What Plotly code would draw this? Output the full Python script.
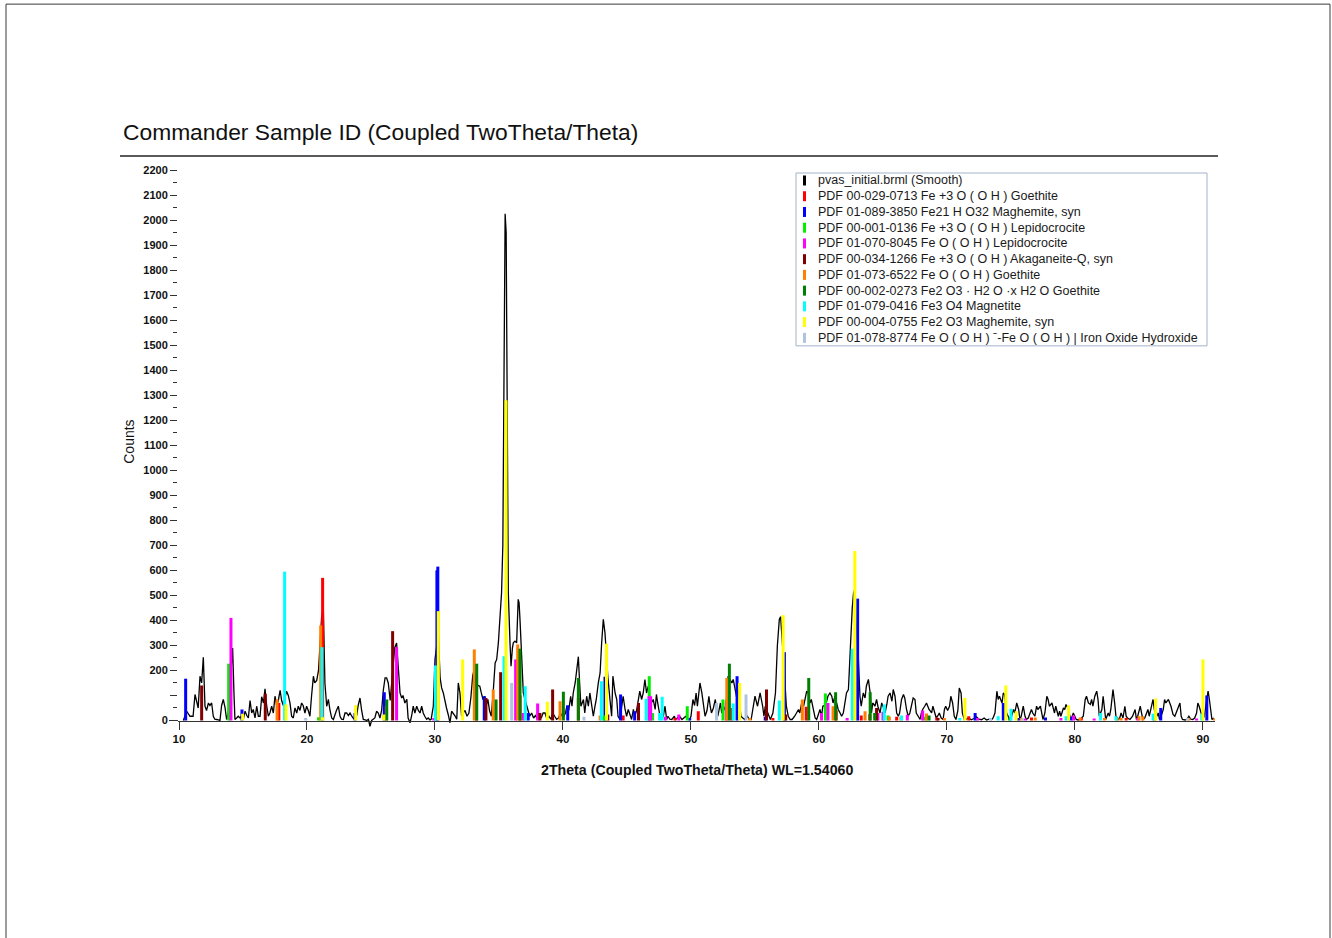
import plotly.graph_objects as go

# ---------------------------------------------------------------------------
# Measured pattern (smoothed), 2theta in degrees and intensity in counts
# ---------------------------------------------------------------------------
two_theta = [
    10.34, 10.6, 10.86, 11.1, 11.25, 11.38, 11.5, 11.64, 11.77, 11.9, 12.03, 12.15, 12.3, 12.42,
    12.55, 12.68, 12.8, 12.94, 13.2, 13.33, 13.46, 13.6, 13.72, 13.85, 13.95, 14.06, 14.19, 14.3,
    14.37, 14.5, 14.63, 14.77, 14.9, 15.03, 15.16, 15.3, 15.42, 15.55, 15.68, 15.8, 15.94, 16.07,
    16.2, 16.33, 16.46, 16.6, 16.72, 16.85, 16.98, 17.1, 17.24, 17.37, 17.5, 17.63, 17.76, 17.9,
    18.02, 18.15, 18.28, 18.4, 18.54, 18.67, 18.8, 18.93, 19.06, 19.2, 19.32, 19.45, 19.58, 19.7,
    19.84, 19.97, 20.1, 20.23, 20.36, 20.5, 20.6, 20.76, 20.9, 21.0, 21.15, 21.28, 21.4, 21.54,
    21.67, 21.8, 21.93, 22.06, 22.2, 22.3, 22.45, 22.58, 22.7, 22.84, 22.97, 23.1, 23.23, 23.36,
    23.5, 23.6, 23.75, 23.88, 24.0, 24.14, 24.27, 24.4, 24.55, 24.66, 24.8, 24.92, 25.05, 25.18,
    25.3, 25.44, 25.57, 25.7, 25.83, 25.96, 26.1, 26.22, 26.35, 26.5, 26.6, 26.7, 26.85, 27.0,
    27.1, 27.27, 27.4, 27.5, 27.65, 27.8, 27.9, 28.05, 28.18, 28.3, 28.43, 28.57, 28.7, 28.83,
    28.96, 29.08, 29.2, 29.35, 29.47, 29.6, 29.7, 29.87, 30.0, 30.13, 30.26, 30.4, 30.52, 30.65,
    30.78, 30.9, 31.05, 31.17, 31.3, 31.43, 31.55, 31.7, 31.82, 31.95, 32.08, 32.2, 32.35, 32.5,
    32.65, 32.8, 32.95, 33.07, 33.2, 33.35, 33.5, 33.62, 33.75, 33.88, 34.0, 34.13, 34.26, 34.4,
    34.5, 34.56, 34.7, 34.82, 34.95, 35.09, 35.2, 35.3, 35.4, 35.48, 35.56, 35.64, 35.73, 35.86,
    35.94, 36.05, 36.12, 36.25, 36.38, 36.5, 36.57, 36.64, 36.77, 36.9, 37.03, 37.16, 37.3, 37.4,
    37.55, 37.7, 37.85, 38.0, 38.15, 38.3, 38.45, 38.6, 38.75, 38.9, 39.05, 39.2, 39.35, 39.5,
    39.65, 39.8, 39.95, 40.05, 40.2, 40.3, 40.45, 40.6, 40.7, 40.8, 40.95, 41.1, 41.2, 41.3,
    41.4, 41.6, 41.7, 41.85, 41.98, 42.1, 42.25, 42.37, 42.5, 42.6, 42.76, 42.9, 43.02, 43.15,
    43.28, 43.4, 43.5, 43.67, 43.8, 43.9, 44.07, 44.2, 44.3, 44.45, 44.58, 44.7, 44.85, 44.97,
    45.1, 45.2, 45.36, 45.5, 45.6, 45.75, 45.88, 46.0, 46.14, 46.27, 46.4, 46.53, 46.66, 46.8,
    46.9, 47.05, 47.2, 47.3, 47.4, 47.58, 47.7, 47.85, 47.97, 48.1, 48.2, 48.35, 48.5, 48.7,
    48.8, 48.95, 49.1, 49.3, 49.45, 49.6, 49.75, 49.9, 50.0, 50.15, 50.28, 50.4, 50.5, 50.7,
    50.85, 51.0, 51.1, 51.25, 51.4, 51.5, 51.6, 51.75, 51.9, 52.0, 52.1, 52.3, 52.4, 52.55,
    52.7, 52.8, 52.9, 53.05, 53.2, 53.3, 53.4, 53.6, 53.7, 53.8, 53.9, 54.05, 54.2, 54.4,
    54.55, 54.7, 54.9, 55.0, 55.2, 55.4, 55.6, 55.7, 55.8, 55.9, 56.1, 56.2, 56.4, 56.6,
    56.75, 56.9, 57.0, 57.1, 57.2, 57.3, 57.45, 57.6, 57.75, 57.9, 58.1, 58.25, 58.4, 58.5,
    58.65, 58.8, 58.9, 59.04, 59.17, 59.3, 59.4, 59.56, 59.7, 59.82, 59.95, 60.08, 60.2, 60.3,
    60.45, 60.6, 60.7, 60.86, 61.0, 61.1, 61.25, 61.4, 61.5, 61.65, 61.77, 61.9, 62.0, 62.15,
    62.3, 62.4, 62.5, 62.6, 62.7, 62.8, 62.9, 63.07, 63.2, 63.3, 63.46, 63.6, 63.7, 63.86,
    64.0, 64.1, 64.2, 64.37, 64.5, 64.6, 64.77, 64.9, 65.0, 65.16, 65.3, 65.4, 65.55, 65.7,
    65.8, 65.94, 66.07, 66.2, 66.3, 66.45, 66.6, 66.7, 66.84, 66.97, 67.1, 67.2, 67.36, 67.5,
    67.6, 67.75, 67.9, 68.0, 68.1, 68.26, 68.4, 68.5, 68.6, 68.8, 68.9, 69.05, 69.16, 69.3,
    69.4, 69.55, 69.7, 69.8, 69.9, 70.05, 70.2, 70.3, 70.44, 70.57, 70.7, 70.85, 70.96, 71.1,
    71.2, 71.35, 71.5, 71.7, 71.9, 72.1, 72.3, 72.5, 72.7, 72.9, 73.1, 73.3, 73.5, 73.6,
    73.75, 73.9, 74.0, 74.1, 74.3, 74.4, 74.5, 74.66, 74.8, 74.9, 75.05, 75.2, 75.3, 75.45,
    75.6, 75.7, 75.8, 75.96, 76.1, 76.2, 76.35, 76.5, 76.6, 76.7, 76.87, 77.0, 77.1, 77.3,
    77.4, 77.5, 77.65, 77.8, 77.9, 78.0, 78.2, 78.3, 78.4, 78.5, 78.7, 78.8, 78.9, 79.1,
    79.2, 79.3, 79.5, 79.6, 79.7, 79.87, 80.0, 80.1, 80.25, 80.4, 80.65, 80.8, 80.9, 81.05,
    81.2, 81.3, 81.4, 81.55, 81.7, 81.8, 81.9, 82.1, 82.2, 82.3, 82.4, 82.6, 82.7, 82.8,
    82.97, 83.1, 83.2, 83.4, 83.5, 83.6, 83.75, 83.9, 84.0, 84.1, 84.3, 84.5, 84.7, 84.8,
    84.9, 85.1, 85.2, 85.3, 85.45, 85.6, 85.7, 85.8, 86.0, 86.1, 86.2, 86.4, 86.5, 86.6,
    86.75, 86.9, 87.0, 87.1, 87.3, 87.4, 87.5, 87.66, 87.8, 87.9, 88.0, 88.2, 88.3, 88.4,
    88.6, 88.75, 88.9, 89.05, 89.2, 89.35, 89.5, 89.6, 89.7, 89.9, 90.0, 90.1, 90.3, 90.4,
    90.5, 90.6, 90.7, 90.85,
]
counts = [
    0, 37, 17, 17, 104, 80, 50, 177, 150, 253, 57, 40, 70, 60,
    70, 17, 5, 4, 0, 60, 84, 50, 4, 30, 120, 200, 290, 100,
    4, 10, 17, 10, 20, 5, 37, 20, 10, 80, 30, 44, 10, 57,
    17, 17, 95, 70, 127, 60, 17, 30, 57, 30, 97, 60, 80, 120,
    80, 60, 90, 117, 100, 70, 17, 10, 50, 30, 57, 40, 70, 60,
    30, 57, 40, 17, 100, 177, 150, 160, 200, 300, 420, 440, 150, 57,
    84, 40, 10, 4, 30, 40, 57, 17, 5, 4, 30, 30, 20, 30,
    17, 10, 5, 20, 60, 90, 40, 4, 2, 0, 5, -23, 0, 5,
    10, 37, 30, 10, 40, 120, 170, 170, 150, 80, 140, 220, 290, 310,
    230, 110, 90, 100, 70, 85, 10, -9, 20, 57, 30, 57, 40, 30,
    57, 30, 17, 5, 10, 2, 5, 57, 244, 300, 350, 170, 130, 110,
    70, 50, 20, -9, 37, 30, 20, 5, 150, 110, 17, 30, 40, 17,
    30, 90, 180, 204, 150, 140, 137, 110, 84, 97, 60, 84, 40, 17,
    70, 124, 230, 244, 310, 404, 510, 700, 1300, 2025, 1950, 1200, 510, 310,
    217, 290, 310, 317, 310, 484, 470, 404, 244, 110, 84, 57, 30, 17,
    30, 10, 20, 5, 20, 10, 30, 30, 5, 17, 5, 30, 17, 5,
    10, 30, 17, 17, 30, 57, 40, 97, 57, 110, 150, 230, 255, 150,
    57, 84, 30, 97, 57, 110, 57, 17, 57, 84, 150, 190, 310, 404,
    350, 244, 177, 84, 17, 177, 110, 84, 17, 4, 44, 97, 44, 17,
    44, 30, 4, 44, 17, 40, 84, 117, 84, 110, 164, 110, 137, 84,
    70, 84, 44, 104, 70, 17, 4, 20, 57, 4, 17, 5, 4, 17,
    4, 10, 17, 4, 10, 17, 5, 4, 17, 84, 60, 110, 57, 150,
    110, 44, 17, 40, 97, 57, 30, 50, 84, 44, 17, 70, 30, 40,
    57, 97, 177, 164, 150, 164, 137, 84, 124, 70, 17, 10, 4, 17,
    5, 4, 70, 97, 57, 110, 57, 17, 57, 44, 17, 4, 30, 110,
    300, 404, 415, 337, 300, 190, 57, 17, 4, 4, 17, 30, 44, 30,
    70, 57, 84, 117, 110, 70, 84, 44, 10, 4, 30, 44, 17, 57,
    60, 77, 97, 110, 97, 70, 97, 57, 44, 30, 17, 30, 57, 110,
    124, 257, 350, 450, 510, 524, 390, 257, 97, 57, 110, 90, 137, 164,
    110, 30, 70, 57, 84, 57, 30, 70, 57, 30, 64, 97, 110, 77,
    124, 97, 30, 17, 30, 84, 104, 90, 44, 17, 30, 57, 90, 84,
    30, 17, 4, 30, 44, 57, 70, 57, 44, 30, 57, 30, 10, 20,
    30, 10, 4, 44, 57, 40, 57, 97, 70, 17, 4, 40, 130, 110,
    30, 4, 5, 10, 3, 8, 15, 5, 3, 10, 2, 5, 4, 10,
    30, 117, 84, 97, 70, 110, 104, 30, 17, 4, 17, 44, 30, 70,
    44, 4, 17, 57, 17, 4, 10, 30, 44, 30, 17, 57, 44, 57,
    30, 4, 30, 97, 84, 57, 70, 44, 30, 57, 17, 37, 17, 50,
    44, 64, 44, 17, 4, 30, 17, 4, 2, 4, 17, 84, 97, 70,
    64, 84, 57, 97, 117, 84, 17, 44, 97, 44, 4, 30, 17, 44,
    124, 70, 17, 4, 10, 30, 10, 57, 17, 10, 4, 17, 44, 4,
    17, 57, 30, 4, 10, 30, 44, 17, 57, 84, 44, 17, 30, 4,
    20, 44, 84, 70, 84, 70, 57, 24, 17, 30, 44, 70, 17, 4,
    2, 5, 17, 5, 4, 10, 30, 70, 57, 17, 4, 17, 84, 117,
    84, 44, 4, 10,
]

# ---------------------------------------------------------------------------
# Reference patterns (stick positions in 2theta, stick heights in counts)
# ---------------------------------------------------------------------------
goethite_029_pos = [17.8, 21.22, 33.24, 36.65, 41.2, 44.7, 48.75, 50.57, 53.2, 56.4, 59.0,
                    61.35, 63.3, 63.97, 66.07, 69.2, 71.7, 76.6, 80.5, 84.0, 86.2]
goethite_029_int = [70, 570, 150, 100, 90, 20, 10, 37, 50, 10, 55,
                    40, 20, 25, 15, 12, 17, 12, 10, 10, 10]

maghemite_089_pos = [10.52, 14.92, 23.75, 26.04, 30.15, 30.22, 33.85, 37.28, 40.37, 43.28, 44.5,
                     45.6, 49.9, 53.6, 55.8, 57.3, 63.02, 72.2, 74.4, 75.6, 77.7, 79.7, 86.7, 90.3]
maghemite_089_int = [167, 44, 30, 113, 600, 615, 97, 30, 61, 175, 104,
                     37, 10, 177, 15, 273, 487, 30, 70, 10, 12, 15, 50, 100]

lepido_001_pos = [13.88, 20.9, 43.2, 46.74, 47.0, 49.71, 52.5, 60.5, 65.4, 68.3]
lepido_001_int = [227, 13, 20, 177, 30, 57, 84, 108, 20, 15]

lepido_070_pos = [14.06, 27.0, 29.9, 36.3, 36.9, 38.02, 46.72, 46.85, 48.0, 49.05, 52.76, 60.2,
                  60.7, 62.2, 64.6, 65.0, 66.9, 68.1, 72.4, 76.1, 78.9, 79.9, 81.5, 84.9, 89.5]
lepido_070_int = [410, 293, 10, 244, 30, 68, 97, 97, 15, 24, 70, 30,
                  70, 10, 30, 35, 23, 40, 10, 8, 10, 20, 8, 10, 8]

akaganeite_pos = [11.77, 16.74, 26.69, 33.98, 35.13, 38.2, 39.19, 43.5, 45.9, 55.9, 57.4, 64.5, 69.3]
akaganeite_int = [140, 107, 357, 90, 193, 30, 124, 24, 70, 124, 24, 50, 10]

goethite_073_pos = [17.66, 21.07, 26.2, 33.07, 34.55, 36.46, 39.77, 42.9, 52.8, 54.6, 58.7, 61.1,
                    63.6, 65.5, 66.4, 68.4, 69.8, 75.8, 76.9, 80.4, 82.3, 83.3, 83.6, 85.0,
                    85.3, 88.9, 90.9]
goethite_073_int = [84, 380, 57, 284, 124, 304, 77, 20, 170, 10, 84, 57,
                    37, 15, 15, 28, 10, 10, 12, 12, 10, 12, 10, 17,
                    17, 10, 8]

goethite_002_pos = [26.23, 33.26, 34.77, 36.64, 40.03, 41.2, 53.0, 59.2, 61.3, 64.0, 64.35, 68.6, 74.9]
goethite_002_int = [84, 227, 84, 287, 115, 170, 227, 170, 113, 113, 30, 20, 12]

magnetite_pos = [18.25, 21.17, 30.03, 35.39, 37.05, 43.0, 46.5, 47.55, 47.75, 53.3, 56.9, 62.6,
                 65.1, 66.45, 71.0, 74.0, 75.0, 79.3, 82.0, 83.2, 86.1, 89.9]
magnetite_int = [595, 293, 220, 257, 137, 157, 87, 30, 95, 68, 80, 287,
                 64, 20, 10, 17, 47, 17, 30, 17, 27, 27]

maghemite_004_pos = [14.97, 18.36, 21.22, 23.8, 26.0, 30.26, 32.16, 35.55, 38.78, 43.4, 53.8,
                     57.2, 62.8, 71.4, 74.6, 75.4, 79.5, 86.3, 90.0]
maghemite_004_int = [27, 64, 13, 61, 24, 437, 244, 1280, 75, 307, 150,
                     421, 677, 90, 140, 37, 61, 88, 244]

oxyhydroxide_pos = [19.9, 35.99, 41.64, 52.0, 54.3, 73.4, 75.9, 88.8]
oxyhydroxide_int = [10, 150, 15, 70, 104, 10, 8, 10]

scan_label = "pvas_initial.brml (Smooth)"
phase_labels = [
    "PDF 00-029-0713 Fe +3 O ( O H ) Goethite",
    "PDF 01-089-3850 Fe21 H O32 Maghemite, syn",
    "PDF 00-001-0136 Fe +3 O ( O H ) Lepidocrocite",
    "PDF 01-070-8045 Fe O ( O H ) Lepidocrocite",
    "PDF 00-034-1266 Fe +3 O ( O H ) Akaganeite-Q, syn",
    "PDF 01-073-6522 Fe O ( O H ) Goethite",
    "PDF 00-002-0273 Fe2 O3 · H2 O ·x H2 O Goethite",
    "PDF 01-079-0416 Fe3 O4 Magnetite",
    "PDF 00-004-0755 Fe2 O3 Maghemite, syn",
    "PDF 01-078-8774 Fe O ( O H ) ˉ-Fe O ( O H ) | Iron Oxide Hydroxide",
]
phase_colors = ["#ff0000", "#0000ff", "#00f000", "#ff00ff", "#800000",
                "#ff8000", "#008000", "#00ffff", "#ffff00", "#b0c4de"]
phase_sticks = [
    (goethite_029_pos, goethite_029_int),
    (maghemite_089_pos, maghemite_089_int),
    (lepido_001_pos, lepido_001_int),
    (lepido_070_pos, lepido_070_int),
    (akaganeite_pos, akaganeite_int),
    (goethite_073_pos, goethite_073_int),
    (goethite_002_pos, goethite_002_int),
    (magnetite_pos, magnetite_int),
    (maghemite_004_pos, maghemite_004_int),
    (oxyhydroxide_pos, oxyhydroxide_int),
]

x_ticks = [10, 20, 30, 40, 50, 60, 70, 80, 90]
y_ticks = [0, 100] + list(range(200, 2201, 100))
y_tick_text = ["0", ""] + [str(v) for v in range(200, 2201, 100)]

# ---------------------------------------------------------------------------
# Page geometry (pixels) and helpers for paper coordinates
# ---------------------------------------------------------------------------
FIG_W, FIG_H = 1332, 938
PLOT_L, PLOT_R, PLOT_T, PLOT_B = 178, 1215, 162, 728.5
Y_LO, Y_HI = -30, 2232
X_LO, X_HI = 9.922, 90.94
FONT = "Liberation Sans, Arial, sans-serif"


def px(x):
    return (x - PLOT_L) / (PLOT_R - PLOT_L)


def py(y):
    return (PLOT_B - y) / (PLOT_B - PLOT_T)


fig = go.Figure()

# measured scan
fig.add_trace(go.Scatter(
    x=two_theta, y=counts, mode="lines",
    line=dict(color="#000000", width=1.3),
    name=scan_label, showlegend=False, hoverinfo="x+y",
))

# reference sticks, one trace per card
for label, color, (pos, inten) in zip(phase_labels, phase_colors, phase_sticks):
    xs, ys = [], []
    for p, h in zip(pos, inten):
        xs += [p, p, None]
        ys += [0, h, None]
    fig.add_trace(go.Scatter(
        x=xs, y=ys, mode="lines",
        line=dict(color=color, width=3),
        name=label, showlegend=False, hoverinfo="skip",
    ))

shapes = []
annotations = []

# page frame
shapes.append(dict(type="rect", xref="paper", yref="paper",
                   x0=px(6), x1=px(1330), y0=py(945), y1=py(4),
                   line=dict(color="#3a3a3a", width=1), fillcolor="rgba(0,0,0,0)",
                   layer="below"))
# rule under the title
shapes.append(dict(type="line", xref="paper", yref="paper",
                   x0=px(120), x1=px(1218), y0=py(156), y1=py(156),
                   line=dict(color="#222222", width=1.5)))
# short extension of the baseline to the left of the count ticks
shapes.append(dict(type="line", xref="paper", yref="y",
                   x0=px(169), x1=px(178), y0=0, y1=0,
                   line=dict(color="#333333", width=1)))

# legend panel
LEG_X0, LEG_X1, LEG_Y0, LEG_Y1 = 796, 1207, 173, 346
shapes.append(dict(type="rect", xref="paper", yref="paper",
                   x0=px(LEG_X0), x1=px(LEG_X1), y0=py(LEG_Y1), y1=py(LEG_Y0),
                   line=dict(color="#a4b3cc", width=1), fillcolor="#ffffff"))
legend_labels = [scan_label] + phase_labels
legend_colors = ["#000000"] + phase_colors
ROW0, ROW_STEP = 180.5, 15.75
for i, (lab, col) in enumerate(zip(legend_labels, legend_colors)):
    yc = ROW0 + i * ROW_STEP
    shapes.append(dict(type="line", xref="paper", yref="paper",
                       x0=px(804.5), x1=px(804.5), y0=py(yc + 5), y1=py(yc - 5),
                       line=dict(color=col, width=3)))
    annotations.append(dict(xref="paper", yref="paper", x=px(816), y=py(yc),
                            xanchor="left", yanchor="middle", showarrow=False,
                            text=lab, font=dict(family=FONT, size=12.5, color="#1a1a1a")))

# titles
annotations.append(dict(xref="paper", yref="paper", x=px(121), y=py(132),
                        xanchor="left", yanchor="middle", showarrow=False,
                        text="Commander Sample ID (Coupled TwoTheta/Theta)",
                        font=dict(family=FONT, size=22.8, color="#111111")))
annotations.append(dict(xref="paper", yref="paper", x=px(697), y=py(771),
                        xanchor="center", yanchor="middle", showarrow=False,
                        text="2Theta (Coupled TwoTheta/Theta) WL=1.54060",
                        font=dict(family=FONT, size=14.2, color="#111111", weight="bold")))
annotations.append(dict(xref="paper", yref="paper", x=px(129), y=py(442),
                        xanchor="center", yanchor="middle", showarrow=False, textangle=-90,
                        text="Counts",
                        font=dict(family=FONT, size=14, color="#111111")))

fig.update_layout(
    width=FIG_W, height=FIG_H,
    margin=dict(l=PLOT_L, r=FIG_W - PLOT_R, t=PLOT_T, b=FIG_H - PLOT_B, pad=0),
    paper_bgcolor="#ffffff", plot_bgcolor="#ffffff",
    showlegend=False,
    shapes=shapes, annotations=annotations,
    xaxis=dict(
        range=[X_LO, X_HI], anchor="free", position=py(721),
        showgrid=False, zeroline=False,
        showline=True, linecolor="#333333", linewidth=1,
        ticks="outside", ticklen=8, tickwidth=1, tickcolor="#333333",
        tickmode="array", tickvals=x_ticks,
        tickfont=dict(family=FONT, size=11.5, color="#111111", weight="bold"),
    ),
    yaxis=dict(
        range=[Y_LO, Y_HI],
        showgrid=False, zeroline=False, showline=False,
        ticks="outside", ticklen=7, tickwidth=1, tickcolor="#333333",
        tickmode="array", tickvals=y_ticks, ticktext=y_tick_text,
        tickfont=dict(family=FONT, size=11, color="#111111", weight="bold"),
        minor=dict(tickmode="linear", tick0=0, dtick=50, ticks="outside",
                   ticklen=4, tickwidth=1, tickcolor="#333333"),
    ),
)

fig.write_html("out.html")
